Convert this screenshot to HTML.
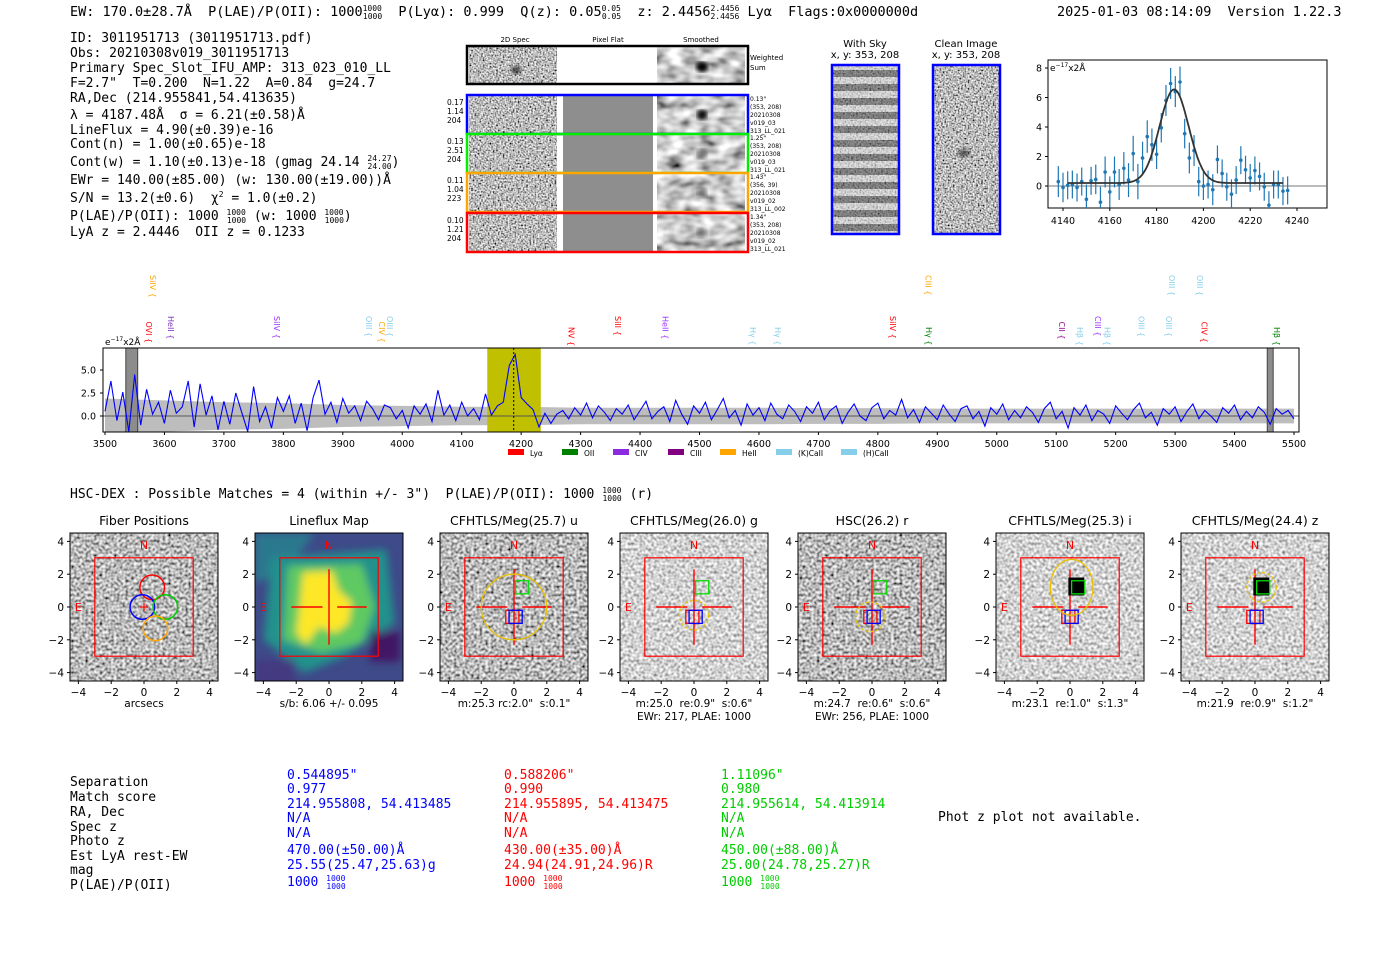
<!DOCTYPE html>
<html><head><meta charset="utf-8">
<style>
html,body{margin:0;padding:0;background:#fff;}
svg{display:block;}
text{white-space:pre;}
.mono{font-family:"DejaVu Sans Mono","Liberation Mono",monospace;}
.sans{font-family:"DejaVu Sans","Liberation Sans",sans-serif;}
</style></head>
<body>
<svg id="root" width="1400" height="953" viewBox="0 0 1400 953" xmlns="http://www.w3.org/2000/svg" xml:space="preserve">
<defs>
<filter id="nz" x="0" y="0" width="1" height="1"><feTurbulence type="fractalNoise" baseFrequency="0.6" numOctaves="1" seed="3"/><feColorMatrix type="matrix" values="2 0 0 0 -0.5  2 0 0 0 -0.5  2 0 0 0 -0.5  0 0 0 0 1"/></filter>
<filter id="nzl" x="0" y="0" width="1" height="1"><feTurbulence type="fractalNoise" baseFrequency="0.35" numOctaves="1" seed="7"/><feColorMatrix type="matrix" values="1.5 0 0 0 -0.1  1.5 0 0 0 -0.1  1.5 0 0 0 -0.1  0 0 0 0 1"/></filter>
<filter id="nzd" x="0" y="0" width="1" height="1"><feTurbulence type="fractalNoise" baseFrequency="0.35" numOctaves="1" seed="11"/><feColorMatrix type="matrix" values="1.7 0 0 0 -0.35  1.7 0 0 0 -0.35  1.7 0 0 0 -0.35  0 0 0 0 1"/></filter>
<filter id="sm" x="0" y="0" width="1" height="1"><feTurbulence type="fractalNoise" baseFrequency="0.06 0.1" numOctaves="2" seed="5"/><feColorMatrix type="matrix" values="1.6 0 0 0 -0.2  1.6 0 0 0 -0.2  1.6 0 0 0 -0.2  0 0 0 0 1"/></filter>
<filter id="blur4"><feGaussianBlur stdDeviation="4"/></filter>
<filter id="blur2"><feGaussianBlur stdDeviation="2"/></filter>
<pattern id="stripes" width="10" height="14" patternUnits="userSpaceOnUse"><rect width="10" height="14" fill="#ddd"/><rect y="0" width="10" height="7" fill="#555"/></pattern>
</defs>

<g class="mono" font-size="13.5" fill="#000">
<text x="70" y="16">EW: 170.0±28.7Å  P(LAE)/P(OII): 1000<tspan font-size="8" dy="-5">1000</tspan><tspan font-size="8" dx="-19" dy="8">1000</tspan><tspan dy="-3">  P(Lyα): 0.999  Q(z): 0.05</tspan><tspan font-size="8" dy="-5">0.05</tspan><tspan font-size="8" dx="-19" dy="8">0.05</tspan><tspan dy="-3">  z: 2.4456</tspan><tspan font-size="8" dy="-5">2.4456</tspan><tspan font-size="8" dx="-29" dy="8">2.4456</tspan><tspan dy="-3"> Lyα  Flags:0x0000000d</tspan></text>
<text x="1057" y="16">2025-01-03 08:14:09  Version 1.22.3</text>
</g>

<g class="mono" font-size="13" fill="#000">
<text x="70" y="42">ID: 3011951713 (3011951713.pdf)</text>
<text x="70" y="57">Obs: 20210308v019_3011951713</text>
<text x="70" y="72">Primary Spec_Slot_IFU_AMP: 313_023_010_LL</text>
<text x="70" y="87">F=2.7"  T=0.200  N=1.22  A=0.84  g=24.7</text>
<text x="70" y="102">RA,Dec (214.955841,54.413635)</text>
<text x="70" y="119">λ = 4187.48Å  σ = 6.21(±0.58)Å</text>
<text x="70" y="134">LineFlux = 4.90(±0.39)e-16</text>
<text x="70" y="148">Cont(n) = 1.00(±0.65)e-18</text>
<text x="70" y="166">Cont(w) = 1.10(±0.13)e-18 (gmag 24.14 <tspan font-size="8" dy="-5">24.27</tspan><tspan font-size="8" dx="-24" dy="8">24.00</tspan><tspan dy="-3">)</tspan></text>
<text x="70" y="184">EWr = 140.00(±85.00) (w: 130.00(±19.00))Å</text>
<text x="70" y="202">S/N = 13.2(±0.6)  χ<tspan font-size="8" dy="-5">2</tspan><tspan dy="5"> = 1.0(±0.2)</tspan></text>
<text x="70" y="220">P(LAE)/P(OII): 1000 <tspan font-size="8" dy="-5">1000</tspan><tspan font-size="8" dx="-19" dy="8">1000</tspan><tspan dy="-3"> (w: 1000 </tspan><tspan font-size="8" dy="-5">1000</tspan><tspan font-size="8" dx="-19" dy="8">1000</tspan><tspan dy="-3">)</tspan></text>
<text x="70" y="236">LyA z = 2.4446  OII z = 0.1233</text>
</g>

<g class="sans" font-size="7" fill="#000">
<text x="515" y="42" text-anchor="middle">2D Spec</text>
<text x="608" y="42" text-anchor="middle">Pixel Flat</text>
<text x="701" y="42" text-anchor="middle">Smoothed</text>
<g>
<rect x="469" y="47" width="88" height="36" filter="url(#nz)"/>
<rect x="657" y="47" width="88" height="36" filter="url(#sm)"/>
<ellipse cx="702" cy="67" rx="6" ry="5" fill="#000" filter="url(#blur2)"/>
<ellipse cx="516" cy="70" rx="5" ry="4" fill="#111" opacity="0.7" filter="url(#blur2)"/>
<rect x="467" y="46" width="281" height="38" fill="none" stroke="#000" stroke-width="2.5"/>
<text x="750" y="60">Weighted</text><text x="750" y="70">Sum</text>
</g>
</g>
<g id="fiberrows" class="sans" font-size="7"></g>

<g class="sans" font-size="10" fill="#000">
<text x="865" y="47" text-anchor="middle">With Sky</text>
<text x="865" y="58" text-anchor="middle">x, y: 353, 208</text>
<rect x="832" y="65" width="67" height="169" fill="url(#stripes)"/>
<rect x="832" y="65" width="67" height="169" filter="url(#nz)" opacity="0.4"/>
<rect x="832" y="65" width="67" height="169" fill="none" stroke="#00f" stroke-width="2.5"/>
<text x="966" y="47" text-anchor="middle">Clean Image</text>
<text x="966" y="58" text-anchor="middle">x, y: 353, 208</text>
<rect x="933" y="65" width="67" height="169" filter="url(#nz)"/>
<ellipse cx="964" cy="153" rx="6" ry="4" fill="#111" opacity="0.6" filter="url(#blur2)"/>
<rect x="933" y="65" width="67" height="169" fill="none" stroke="#00f" stroke-width="2.5"/>
</g>

<g id="zoomfit" class="sans"></g>
<g id="spectrum" class="sans"></g>

<text x="70" y="498" class="mono" font-size="13">HSC-DEX : Possible Matches = 4 (within +/- 3")  P(LAE)/P(OII): 1000 <tspan font-size="8" dy="-5">1000</tspan><tspan font-size="8" dx="-19" dy="8">1000</tspan><tspan dy="-3"> (r)</tspan></text>

<g id="thumbs" class="sans"></g>

<g class="mono" font-size="13">
<g fill="#000">
<text x="70" y="786">Separation</text><text x="70" y="801">Match score</text><text x="70" y="816">RA, Dec</text><text x="70" y="831">Spec z</text><text x="70" y="845">Photo z</text><text x="70" y="860">Est LyA rest-EW</text><text x="70" y="874">mag</text><text x="70" y="889">P(LAE)/P(OII)</text>
</g>
<g fill="#0000ff">
<text x="287" y="779">0.544895"</text><text x="287" y="793">0.977</text><text x="287" y="808">214.955808, 54.413485</text><text x="287" y="822">N/A</text><text x="287" y="837">N/A</text><text x="287" y="854">470.00(±50.00)Å</text><text x="287" y="869">25.55(25.47,25.63)g</text><text x="287" y="886">1000 <tspan font-size="8" dy="-5">1000</tspan><tspan font-size="8" dx="-19" dy="8">1000</tspan></text>
</g>
<g fill="#ff0000">
<text x="504" y="779">0.588206"</text><text x="504" y="793">0.990</text><text x="504" y="808">214.955895, 54.413475</text><text x="504" y="822">N/A</text><text x="504" y="837">N/A</text><text x="504" y="854">430.00(±35.00)Å</text><text x="504" y="869">24.94(24.91,24.96)R</text><text x="504" y="886">1000 <tspan font-size="8" dy="-5">1000</tspan><tspan font-size="8" dx="-19" dy="8">1000</tspan></text>
</g>
<g fill="#00cc00">
<text x="721" y="779">1.11096"</text><text x="721" y="793">0.980</text><text x="721" y="808">214.955614, 54.413914</text><text x="721" y="822">N/A</text><text x="721" y="837">N/A</text><text x="721" y="854">450.00(±88.00)Å</text><text x="721" y="869">25.00(24.78,25.27)R</text><text x="721" y="886">1000 <tspan font-size="8" dy="-5">1000</tspan><tspan font-size="8" dx="-19" dy="8">1000</tspan></text>
</g>
<text x="938" y="821" fill="#000">Phot z plot not available.</text>
</g>
</svg>

<script>
const specStart = 3500;
const specStep = 10;
const specFlux = [
 0.5,3.8,-0.5,2.6,-1.7,4.5,-1.0,2.9,0.2,1.5,
 -0.8,2.8,0.3,1.0,3.8,-1.2,3.5,0.1,2.2,-1.5,
 1.6,-0.9,2.5,0.4,-1.7,3.2,-0.6,1.0,-1.3,2.0,
 0.5,2.2,-0.8,1.4,-1.6,2.0,3.9,0.2,1.5,-0.7,
 1.9,0.3,1.1,-0.5,1.6,0.8,-0.4,1.2,0.9,-0.3,
 0.6,-1.3,1.1,0.2,1.3,-0.6,2.8,0.1,1.2,-0.5,
 1.5,0.0,0.8,-0.4,2.4,0.1,1.1,1.5,5.5,6.7,
 2.0,1.3,0.7,-1.2,0.3,-0.8,0.2,0.6,-0.3,0.9,
 0.1,1.4,-0.2,1.1,0.4,-0.5,0.8,0.2,1.2,-0.4,
 0.6,1.6,-0.3,0.5,1.0,-0.6,1.7,0.2,-0.9,1.1,
 0.3,1.5,-0.4,0.7,1.9,-0.2,0.6,-1.0,1.3,0.1,
 0.9,-0.5,1.4,0.2,-0.3,1.2,0.5,-0.6,1.0,0.3,
 1.5,-0.4,0.6,1.1,-0.8,0.4,1.3,0.0,-0.5,0.9,
 1.4,-0.3,0.6,0.1,1.8,-0.2,0.7,-0.7,1.0,0.3,
 -0.4,1.2,0.2,-0.6,0.8,1.1,-0.3,0.5,-1.1,0.9,
 0.2,1.3,-0.4,0.6,-0.2,1.0,0.4,-0.7,0.8,1.5,
 -0.3,0.5,-1.3,0.9,0.1,1.2,-0.5,0.6,0.2,-0.8,
 1.1,0.3,-0.4,0.7,1.4,-0.2,0.4,-1.0,0.8,0.2,
 1.0,-0.6,0.5,1.3,-0.3,0.6,0.0,-0.7,0.9,0.3,
 1.2,-0.4,0.5,-0.2,1.0,0.4,-0.9,0.8,0.2,0.6,
 -0.3
];
const errWaves = [3500,3600,3700,3800,3900,4000,4100,4200,4300,4400,4500,4600,4700,4800,4900,5000,5100,5200,5300,5400,5500];
const errVals  = [1.9,1.7,1.5,1.4,1.2,1.1,1.0,1.0,0.9,0.9,0.9,0.9,0.85,0.85,0.8,0.8,0.8,0.8,0.8,0.8,0.8];
const specXTicks = [3500,3600,3700,3800,3900,4000,4100,4200,4300,4400,4500,4600,4700,4800,4900,5000,5100,5200,5300,5400,5500];
const specYTicks = [0.0,2.5,5.0];
const lineWave = 4187.48;
const lineWindow = [4143,4233];
const lineNames  = ["OVI","HeII","SiIV","OIII","CIV","OIII","NV","SiII","HeII","Hγ","Hγ","SiIV","Hγ","CII","Hβ","CIII","Hβ","OIII","OIII","CIV","Hβ","SiIV","CIII","OIII","OIII"];
const lineLamb   = [3564,3601,3779,3934,3956,3969,4275,4353,4433,4580,4622,4815,4876,5100,5130,5160,5176,5233,5280,5339,5461,3571,4875,5285,5332];
const lineRow    = [0,0,0,0,0,0,0,0,0,0,0,0,0,0,0,0,0,0,0,0,0,1,1,1,1];
const lineColors = ["#ff0000","#7b2fbe","#9b30ff","#87ceeb","#ffa500","#87ceeb","#ff0000","#ff0000","#9b30ff","#87ceeb","#87ceeb","#ff0000","#008000","#8b008b","#87ceeb","#9b30ff","#87ceeb","#87ceeb","#87ceeb","#ff0000","#008000","#ffa500","#ffa500","#87ceeb","#87ceeb"];
const legendNames  = ["Lyα","OII","CIV","CIII","HeII","(K)CaII","(H)CaII"];
const legendColors = ["#ff0000","#008000","#8a2be2","#800080","#ffa500","#87ceeb","#87ceeb"];

const fitWaves = [4138,4140,4142,4144,4146,4148,4150,4152,4154,4156,4158,4160,4162,4164,4166,4168,4170,4172,4174,4176,4178,4180,4182,4184,4186,4188,4190,4192,4194,4196,4198,4200,4202,4204,4206,4208,4210,4212,4214,4216,4218,4220,4222,4224,4226,4228,4230,4232,4234,4236];
const fitFlux  = [0.3,-0.1,0.05,0.1,-0.1,0.3,-0.9,0.35,0.45,-1.1,0.95,-0.4,0.95,0.1,1.2,0.4,2.2,0.3,1.9,3.35,2.8,2.15,3.95,5.8,6.95,6.4,7.05,3.55,1.9,2.4,0.3,0.0,0.1,-0.25,1.8,0.85,-0.05,-0.55,0.4,1.75,1.1,0.55,1.05,0.65,-0.05,-1.3,0.1,0.1,-0.35,-0.3];
const fitErr   = [1.05,1.0,0.95,0.95,0.95,0.95,1.0,0.95,1.0,1.05,1.05,1.05,1.05,1.05,1.1,1.15,1.2,1.2,1.1,1.1,1.1,1.0,1.0,1.05,1.05,1.05,1.05,1.0,1.05,1.05,1.0,0.95,0.95,1.05,0.95,0.95,0.95,1.0,0.95,0.95,0.95,0.95,0.95,0.95,0.95,0.95,0.95,0.95,0.95,0.95];
const fitXTicks = [4140,4160,4180,4200,4220,4240];
const fitYTicks = [0,2,4,6,8];
const gaussAmp = 6.35, gaussMu = 4187.48, gaussSigma = 6.21, gaussBase = 0.2;

const NS = "http://www.w3.org/2000/svg";
function mk(tag, attrs, parent){const e=document.createElementNS(NS,tag);for(const k in attrs)e.setAttribute(k,attrs[k]);parent.appendChild(e);return e;}
function txt(s, attrs, parent){const e=mk("text",attrs,parent);e.textContent=s;return e;}

(function(){
  const g=document.getElementById("fiberrows");
  const rows=[{y:95,c:"#0000ff",l:["0.17","1.14","204"],r:["0.13\"","(353, 208)","20210308","v019_03","313_LL_021"]},
              {y:134,c:"#00ee00",l:["0.13","2.51","204"],r:["1.25\"","(353, 208)","20210308","v019_03","313_LL_021"]},
              {y:173,c:"#ffa500",l:["0.11","1.04","223"],r:["1.43\"","(356, 39)","20210308","v019_02","313_LL_002"]},
              {y:213,c:"#ff0000",l:["0.10","1.21","204"],r:["1.34\"","(353, 208)","20210308","v019_02","313_LL_021"]}];
  rows.forEach((rw,i)=>{
    const a=mk("rect",{x:469,y:rw.y+1,width:88,height:37,filter:"url(#nz)"},g);
    
    
    const b=mk("rect",{x:563,y:rw.y+1,width:90,height:37,fill:"#8e8e8e"},g);
    
    
    const c=mk("rect",{x:657,y:rw.y+1,width:88,height:37,filter:"url(#sm)"},g);
    
    
    mk("ellipse",{cx:702,cy:rw.y+20,rx:5,ry:5,fill:"#000",opacity:i==0?0.9:0.45,filter:"url(#blur2)"},g);
    const f=mk("rect",{x:467,y:rw.y,width:281,height:39,fill:"none",stroke:rw.c,"stroke-width":2.5},g);
    
    
    rw.l.forEach((s,k)=>txt(s,{x:447,y:rw.y+10+k*9,"font-size":7.5},g));
    rw.r.forEach((s,k)=>txt(s,{x:750,y:rw.y+6+k*8,"font-size":6},g));
  });
})();

(function(){
  const g=document.getElementById("zoomfit");
  const L=1048,R=1327,T=60,B=208;
  const X=w=>1063+(w-4140)*2.34, Y=f=>186-f*14.75;
  const cp=mk("clipPath",{id:"zc"},g); mk("rect",{x:L,y:T,width:R-L,height:B-T},cp);
  const ax=mk("rect",{x:L,y:T,width:R-L,height:B-T,fill:"none",stroke:"#000","stroke-width":1},g);
  
  
  const pg=mk("g",{"clip-path":"url(#zc)"},g);
  mk("line",{x1:L,x2:R,y1:Y(0),y2:Y(0),stroke:"#777","stroke-width":1},pg);
  fitWaves.forEach((w,i)=>{
    const e=mk("line",{x1:X(w),x2:X(w),y1:Y(fitFlux[i]-fitErr[i]),y2:Y(fitFlux[i]+fitErr[i]),stroke:"#1f77b4","stroke-width":1.2},pg);
    
    
    const p=mk("circle",{cx:X(w),cy:Y(fitFlux[i]),r:1.8,fill:"#1f77b4"},pg);
    
    
  });
  let d="";
  for(let w=4142;w<=4234;w+=0.5){const f=gaussBase+gaussAmp*Math.exp(-0.5*((w-gaussMu)/gaussSigma)**2);d+=(d?"L":"M")+X(w).toFixed(1)+","+Y(f).toFixed(1);}
  const gl=mk("path",{d:d,fill:"none",stroke:"#333","stroke-width":1.8},pg);
  
  
  fitXTicks.forEach(t=>{mk("line",{x1:X(t),x2:X(t),y1:B,y2:B+3,stroke:"#000"},g);txt(String(t),{x:X(t),y:B+16,"text-anchor":"middle","font-size":9.5},g);});
  fitYTicks.forEach(t=>{mk("line",{x1:L-3,x2:L,y1:Y(t),y2:Y(t),stroke:"#000"},g);txt(String(t),{x:L-6,y:Y(t)+3.5,"text-anchor":"end","font-size":9.5},g);});
  const u=txt("e",{x:L+2,y:T+11,"font-size":9},g); const s=mk("tspan",{"font-size":6,dy:-4},u); s.textContent="−17"; const s2=mk("tspan",{dy:4},u); s2.textContent="x2Å";
})();

(function(){
  const g=document.getElementById("spectrum");
  const L=103,R=1299,T=348,B=432;
  const X=w=>105+(w-3500)*0.5945, Y=f=>416-f*9.2;
  const cp=mk("clipPath",{id:"sc"},g); mk("rect",{x:L,y:T,width:R-L,height:B-T},cp);
  const pg=mk("g",{"clip-path":"url(#sc)"},g);
  let up="",dn="";
  errWaves.forEach((w,i)=>{up+=(i?"L":"M")+X(w)+","+Y(errVals[i]);});
  for(let i=errWaves.length-1;i>=0;i--){dn+="L"+X(errWaves[i])+","+Y(-errVals[i]);}
  const band=mk("path",{d:up+dn+"Z",fill:"#bdbdbd"},pg);
  
  
  const hl=mk("rect",{x:X(lineWindow[0]),y:T,width:X(lineWindow[1])-X(lineWindow[0]),height:B-T,fill:"#c0c000"},pg);
  
  
  [[3535,3555],[5455,5465]].forEach(r=>{const m=mk("rect",{x:X(r[0]),y:T,width:X(r[1])-X(r[0]),height:B-T,fill:"#8c8c8c",stroke:"#444","stroke-width":1},pg);
    
    });
  mk("line",{x1:L,x2:R,y1:Y(0),y2:Y(0),stroke:"#555","stroke-width":1},pg);
  let d="";
  specFlux.forEach((f,i)=>{d+=(i?"L":"M")+X(specStart+i*specStep).toFixed(1)+","+Y(f).toFixed(1);});
  const sp=mk("path",{d:d,fill:"none",stroke:"#0000ff","stroke-width":1.1},pg);
  
  
  const cl=mk("line",{x1:X(lineWave),x2:X(lineWave),y1:T,y2:B,stroke:"#000","stroke-dasharray":"2,2","stroke-width":1},pg);
  
  
  const ax=mk("rect",{x:L,y:T,width:R-L,height:B-T,fill:"none",stroke:"#000","stroke-width":1},g);
  
  
  specXTicks.forEach(t=>{mk("line",{x1:X(t),x2:X(t),y1:B,y2:B+3,stroke:"#000"},g);
    const e=txt(String(t),{x:X(t),y:B+15,"text-anchor":"middle","font-size":9.5},g);
    
    });
  specYTicks.forEach(t=>{mk("line",{x1:L-3,x2:L,y1:Y(t),y2:Y(t),stroke:"#000"},g);txt(t.toFixed(1),{x:L-7,y:Y(t)+3.5,"text-anchor":"end","font-size":9.5},g);});
  const u=txt("e",{x:105,y:345,"font-size":9},g); const s=mk("tspan",{"font-size":6,dy:-4},u); s.textContent="−17"; const s2=mk("tspan",{dy:4},u); s2.textContent="x2Å";
  lineNames.forEach((n,i)=>{
    const x=X(lineLamb[i]), y=lineRow[i]?305:346;
    const e=txt(n+" {",{x:0,y:0,"font-size":8,fill:lineColors[i],transform:`translate(${x+3},${y-(n.length*5.5+8)}) rotate(90)`},g);
    
    
  });
  let lx=508;
  const lg=mk("g",{},g);
  
  
  legendNames.forEach((n,i)=>{
    mk("rect",{x:lx,y:449,width:16,height:6,fill:legendColors[i]},lg);
    txt(n,{x:lx+22,y:456,"font-size":7.5},lg);
    lx+= [54,51,55,52,56,65,0][i];
  });
})();

const thumbTitles = ["Fiber Positions","Lineflux Map","CFHTLS/Meg(25.7) u","CFHTLS/Meg(26.0) g","HSC(26.2) r","CFHTLS/Meg(25.3) i","CFHTLS/Meg(24.4) z"];
const thumbSub1 = ["arcsecs","s/b: 6.06 +/- 0.095","m:25.3 rc:2.0\"  s:0.1\"","m:25.0  re:0.9\"  s:0.6\"","m:24.7  re:0.6\"  s:0.6\"","m:23.1  re:1.0\"  s:1.3\"","m:21.9  re:0.9\"  s:1.2\""];
const thumbSub2 = ["","","","EWr: 217, PLAE: 1000","EWr: 256, PLAE: 1000","",""];
const thumbLeft = [70,255,440,620,798,996,1181];
(function(){
  const g=document.getElementById("thumbs");
  const top=533, S=148, sc=16.4;
  const filters=["url(#nzd)",null,"url(#nzd)","url(#nzl)","url(#nzd)","url(#nzl)","url(#nzl)"];
  thumbLeft.forEach((px,i)=>{
    const cx=px+74, cy=top+74;
    const U=v=>cx+v*sc, V=v=>cy-v*sc;
    const pg=mk("g",{},g);
    
    
    const cpid="tc"+i; const cp=mk("clipPath",{id:cpid},pg); mk("rect",{x:px,y:top,width:S,height:S},cp);
    const ig=mk("g",{"clip-path":`url(#${cpid})`},pg);
    if(i===1){
      mk("rect",{x:px,y:top,width:S,height:S,fill:"#3e4a89"},ig);
      const bl=mk("g",{filter:"url(#blur4)"},ig);
      mk("polygon",{points:`${px},${top} ${px+60},${top} ${px+30},${top+40} ${px},${top+50}`,fill:"#2a788e"},bl);
      mk("polygon",{points:`${U(-3.5)},${V(3)} ${U(3.5)},${V(3.5)} ${U(4)},${V(-1)} ${U(1)},${V(-3)} ${U(-1.5)},${V(-4)} ${U(-4)},${V(-2)}`,fill:"#21918c"},bl);
      mk("polygon",{points:`${U(-2.5)},${V(2.5)} ${U(2)},${V(2.6)} ${U(2.8)},${V(0)} ${U(2)},${V(-2.2)} ${U(-0.5)},${V(-2.8)} ${U(-2.8)},${V(-2)}`,fill:"#5ec962"},bl);
      mk("polygon",{points:`${U(-1.6)},${V(2.1)} ${U(0.2)},${V(2.2)} ${U(0.6)},${V(1.0)} ${U(1.4)},${V(0.3)} ${U(1.2)},${V(-1.0)} ${U(0.4)},${V(-1.6)} ${U(-0.6)},${V(-1.2)} ${U(-1.4)},${V(-2.3)} ${U(-2)},${V(-1.6)} ${U(-1.8)},${V(0)}`,fill:"#fde725"},bl);
      mk("rect",{x:U(2.5),y:V(-1.5),width:30,height:30,fill:"#440154",opacity:0.7},bl);
      mk("rect",{x:px,y:V(-3.2),width:40,height:30,fill:"#46327e",opacity:0.7},bl);
    } else {
      mk("rect",{x:px,y:top,width:S,height:S,filter:filters[i]},ig);
    }
    const fr=mk("rect",{x:px,y:top,width:S,height:S,fill:"none",stroke:"#000","stroke-width":1},pg);
    
    
    const red="#ff0000";
    mk("rect",{x:U(-3),y:V(3),width:6*sc,height:6*sc,fill:"none",stroke:red,"stroke-width":1.2},ig);
    txt("N",{x:cx,y:top+16,"text-anchor":"middle","font-size":11,fill:red},ig);
    txt("E",{x:U(-4),y:cy+4,"text-anchor":"middle","font-size":11,fill:red},ig);
    if(i===0){
      [[0.5,1.2,"#ff0000"],[-0.1,0,"#0000ff"],[1.3,0,"#00cc00"],[0.7,-1.3,"#ffa500"]].forEach(c=>{
        const e=mk("circle",{cx:U(c[0]),cy:V(c[1]),r:0.75*sc,fill:"none",stroke:c[2],"stroke-width":1.5},ig);
        
        
      });
      mk("path",{d:`M${cx-4},${cy}H${cx+4}M${cx},${cy-4}V${cy+4}`,stroke:red,"stroke-width":1.2},ig);
    } else {
      mk("path",{d:`M${U(-2.3)},${cy}H${U(-0.4)}M${U(0.5)},${cy}H${U(2.3)}M${cx},${V(2.3)}V${V(-2.3)}`,stroke:red,"stroke-width":1.4},ig);
    }
    if(i>=2){
      if(i>=5){mk("rect",{x:U(-0.1),y:V(1.8),width:16,height:18,fill:"#000"},ig);}
      mk("rect",{x:U(0.1),y:V(1.6),width:0.8*sc,height:0.8*sc,fill:"none",stroke:"#00dd00","stroke-width":1.3},ig);
      mk("rect",{x:U(-0.5),y:V(-0.2),width:0.8*sc,height:0.8*sc,fill:"none",stroke:red,"stroke-width":1.3},ig);
      mk("rect",{x:U(-0.3),y:V(-0.2),width:0.8*sc,height:0.8*sc,fill:"none",stroke:"#0000ff","stroke-width":1.3},ig);
      const yc={2:[0,0,2,2,""],3:[0,-0.5,0.9,0.9,"3,2"],4:[-0.1,-0.6,0.9,0.9,"3,2"],5:[0.1,1.2,1.3,1.7,""],6:[0.4,1.2,0.9,0.9,"3,2"]}[i];
      const e=mk("ellipse",{cx:U(yc[0]),cy:V(yc[1]),rx:yc[2]*sc,ry:yc[3]*sc,fill:"none",stroke:"#e8c000","stroke-width":1.3,"stroke-dasharray":yc[4]||"none"},ig);
      
      
    }
    [-4,-2,0,2,4].forEach(t=>{
      mk("line",{x1:U(t),x2:U(t),y1:top+S,y2:top+S+3,stroke:"#000"},pg);
      txt(t<0?"−"+(-t):String(t),{x:U(t),y:top+S+15,"text-anchor":"middle","font-size":10.5},pg);
      mk("line",{x1:px-3,x2:px,y1:V(t),y2:V(t),stroke:"#000"},pg);
      txt(t<0?"−"+(-t):String(t),{x:px-6,y:V(t)+4,"text-anchor":"end","font-size":10.5},pg);
    });
    const tt=txt(thumbTitles[i],{x:cx,y:top-8,"text-anchor":"middle","font-size":12.5},pg);
    
    
    txt(thumbSub1[i],{x:cx,y:top+S+26,"text-anchor":"middle","font-size":10.5},pg);
    if(thumbSub2[i]) txt(thumbSub2[i],{x:cx,y:top+S+39,"text-anchor":"middle","font-size":10.5},pg);
  });
})();
</script>
</body></html>
